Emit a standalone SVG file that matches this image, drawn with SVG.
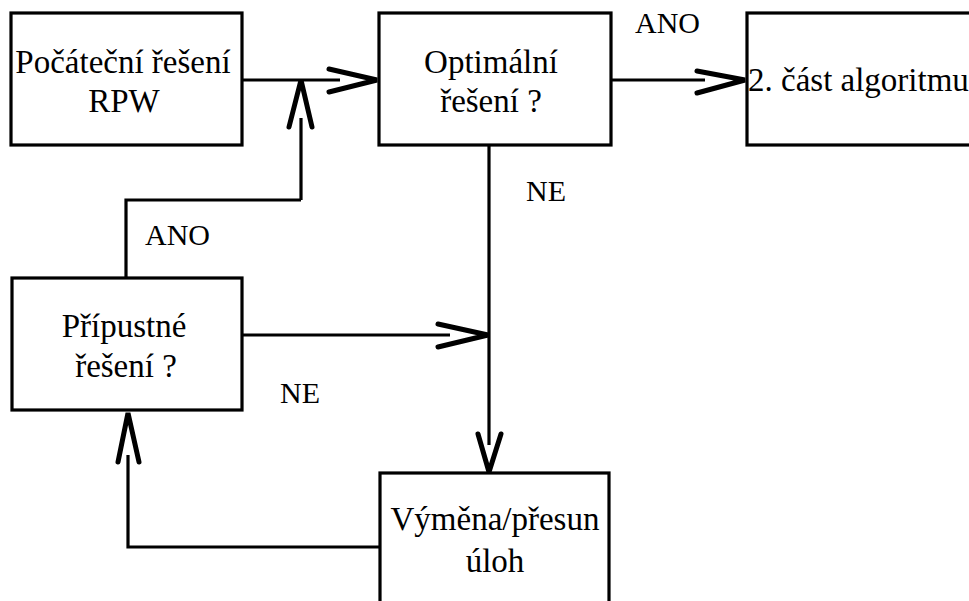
<svg xmlns="http://www.w3.org/2000/svg" width="969" height="601" viewBox="0 0 969 601">
  <style>
    .box { fill: #fff; stroke: #000; stroke-width: 3.2; }
    .line { fill: none; stroke: #000; stroke-width: 3.2; }
    .head { fill: none; stroke: #000; stroke-width: 5; stroke-linecap: round; stroke-linejoin: miter; }
    .t { font-family: "Liberation Serif", "Times New Roman", serif; font-size: 33px; fill: #000; text-anchor: middle; }
    .lbl { font-family: "Liberation Serif", "Times New Roman", serif; font-size: 30px; fill: #000; }
  </style>
  <rect width="969" height="601" fill="#fff"/>

  <!-- connectors -->
  <g id="connectors">
    <!-- start -> optimal -->
    <path class="line" d="M242 80 H340"/>
    <path class="head" d="M329 69 L377 80 L329 92"/>
    <!-- optimal -> part 2 (ANO) -->
    <path class="line" d="M611 80 H705"/>
    <path class="head" d="M697 71 L745 80 L697 93"/>
    <!-- feasible ANO -> back to start line -->
    <path class="line" d="M126 278 V200 H301"/>
    <path class="line" d="M301 200 V118"/>
    <path class="head" d="M289 127 L301 80 L312 127"/>
    <!-- feasible NE -> join -->
    <path class="line" d="M242 335 H450"/>
    <path class="head" d="M438 324 L488 335 L438 347"/>
    <!-- optimal NE -> exchange -->
    <path class="line" d="M489 145 V445"/>
    <path class="head" d="M478 434 L489 472 L501 434"/>
    <!-- exchange -> feasible -->
    <path class="line" d="M380 547 H128 V455"/>
    <path class="head" d="M118 462 L128 413 L139 462"/>
  </g>

  <g id="node-start">
    <rect class="box" x="11" y="13" width="231" height="132"/>
    <text class="t" x="123" y="73">Počáteční řešení</text>
    <text class="t" x="124" y="112">RPW</text>
  </g>

  <g id="node-optimal">
    <rect class="box" x="379" y="13" width="232" height="132"/>
    <text class="t" x="491" y="73">Optimální</text>
    <text class="t" x="491" y="112">řešení ?</text>
  </g>

  <g id="node-part2">
    <rect class="box" x="747" y="13" width="240" height="132"/>
    <text class="t" x="748" y="91" style="text-anchor:start">2. část algoritmu</text>
  </g>

  <g id="node-feasible">
    <rect class="box" x="12" y="278" width="230" height="132"/>
    <text class="t" x="124" y="337">Přípustné</text>
    <text class="t" x="126" y="377">řešení ?</text>
  </g>

  <g id="node-exchange">
    <rect class="box" x="380" y="473" width="229" height="140"/>
    <text class="t" x="495" y="530">Výměna/přesun</text>
    <text class="t" x="495" y="572">úloh</text>
  </g>

  <g id="labels">
    <text class="lbl" x="635" y="33">ANO</text>
    <text class="lbl" x="526" y="201">NE</text>
    <text class="lbl" x="145" y="245">ANO</text>
    <text class="lbl" x="280" y="403">NE</text>
  </g>
</svg>
